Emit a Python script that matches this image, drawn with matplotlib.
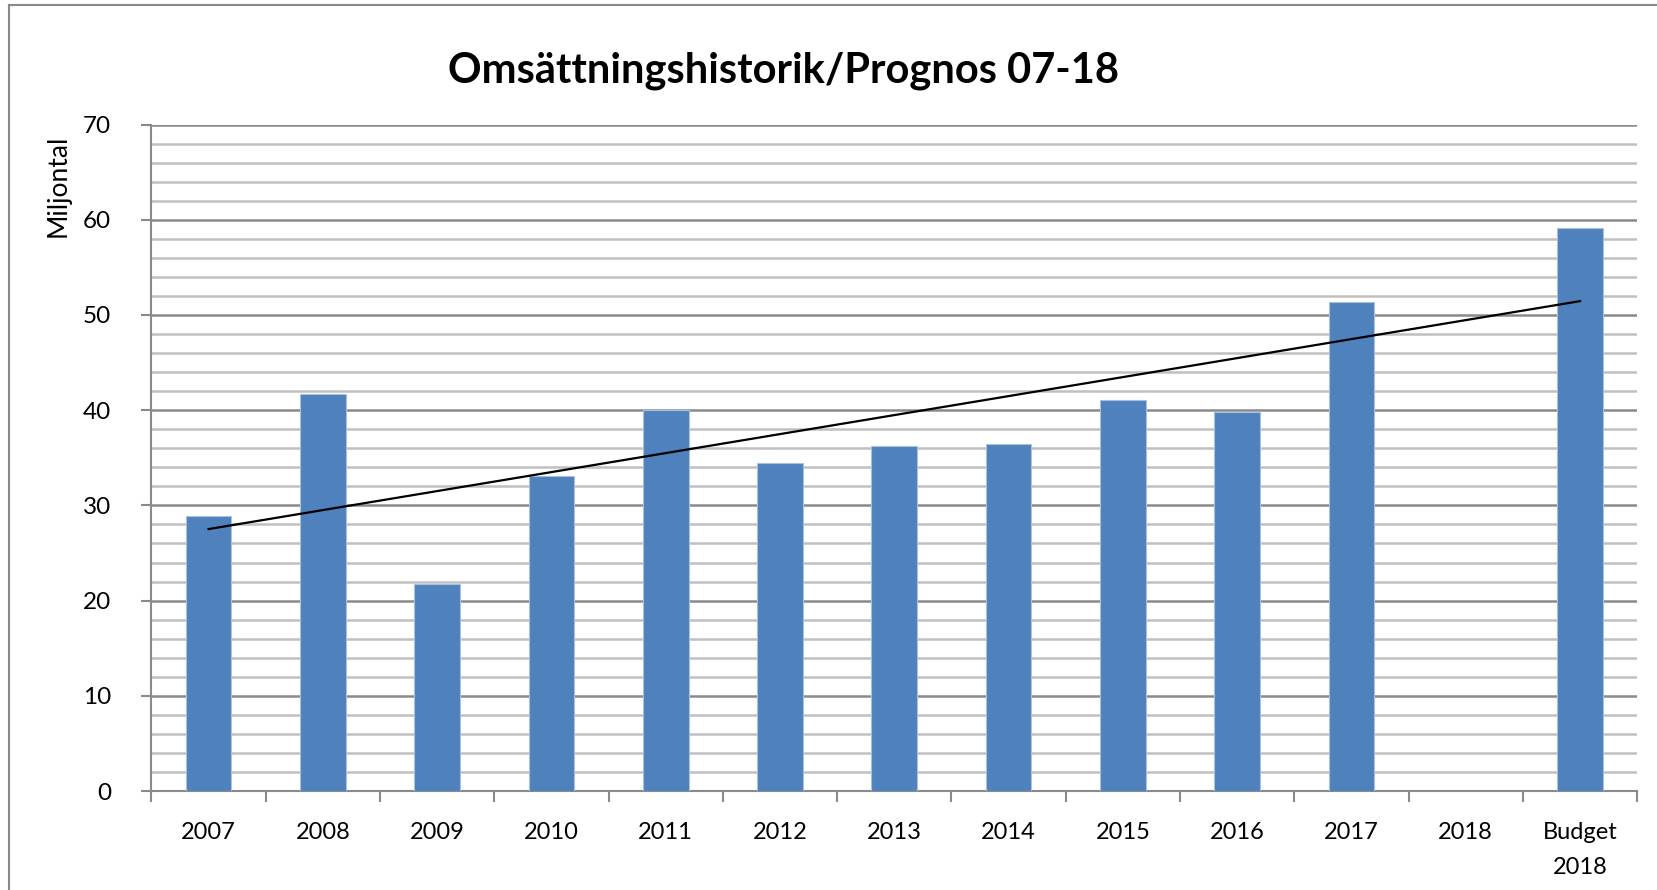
import numpy as np
import matplotlib
matplotlib.use('Agg')
import matplotlib.pyplot as plt
from matplotlib.ticker import MultipleLocator, FixedLocator
from matplotlib.lines import Line2D

plt.rcParams['font.family'] = ['Lato', 'DejaVu Sans']

# data (miljoner kr)
categories = ['2007', '2008', '2009', '2010', '2011', '2012', '2013',
              '2014', '2015', '2016', '2017', '2018', 'Budget\n2018']
omsattning = [28.9, 41.7, 21.7, 33.1, 40.0, 34.4, 36.2,
              36.4, 41.1, 39.8, 51.4, np.nan, 59.1]

title = 'Omsättningshistorik/Prognos 07-18'
ylabel = 'Miljontal'

fig = plt.figure(figsize=(16.57, 8.90), dpi=100)
ax = fig.add_axes([0.0914, 0.1112, 0.8966, 0.7489])

x = np.arange(len(categories))
y = np.array(omsattning, dtype=float)
ax.bar(x, y, width=0.4, color='#4F81BD', edgecolor='#A9C1E0', linewidth=0.8, zorder=3)

# linear trendline (like Excel), blank year skipped
ok = ~np.isnan(y)
k, m = np.polyfit(x[ok] + 1, y[ok], 1)
xt = np.array([x[0], x[-1]])
ax.plot(xt, k * (xt + 1) + m, color='black', linewidth=1.6, zorder=4)

ax.set_xlim(-0.5, len(categories) - 0.5)
ax.set_ylim(0, 70)
ax.yaxis.set_major_locator(MultipleLocator(10))
ax.yaxis.set_minor_locator(MultipleLocator(2))
ax.grid(which='major', axis='y', color='#8A8A8A', linewidth=1.8, zorder=0)
ax.grid(which='minor', axis='y', color='#C0C0C0', linewidth=1.8, zorder=0)

ax.set_xticks(x)
ax.set_xticklabels(categories, fontsize=17, linespacing=1.85, va='top')
ax.xaxis.set_minor_locator(FixedLocator(np.arange(-0.5, len(categories), 1.0)))
ax.tick_params(axis='x', which='major', length=0, pad=22)
ax.tick_params(axis='x', which='minor', length=8, width=1.5, color='#8A8A8A', direction='out')
ax.tick_params(axis='y', which='major', length=7, width=1.5, color='#8A8A8A',
               labelsize=17.5, pad=22)
ax.tick_params(axis='y', which='minor', length=0)

for s in ['top', 'right']:
    ax.spines[s].set_visible(False)
for s in ['left', 'bottom']:
    ax.spines[s].set_color('#8A8A8A')
    ax.spines[s].set_linewidth(1.5)

fig.text(0.473, 0.920, title, fontsize=30, fontweight='bold', ha='center', va='center')
fig.text(0.035, 0.791, ylabel, fontsize=19, rotation=90, ha='center', va='center')

# outer chart border
fig.add_artist(Line2D([0.0055, 0.0055], [0, 0.9945], color='#8A8A8A', linewidth=1.5))
fig.add_artist(Line2D([0.0055, 1], [0.9945, 0.9945], color='#8A8A8A', linewidth=1.5))

fig.savefig('out.png', dpi=100)
